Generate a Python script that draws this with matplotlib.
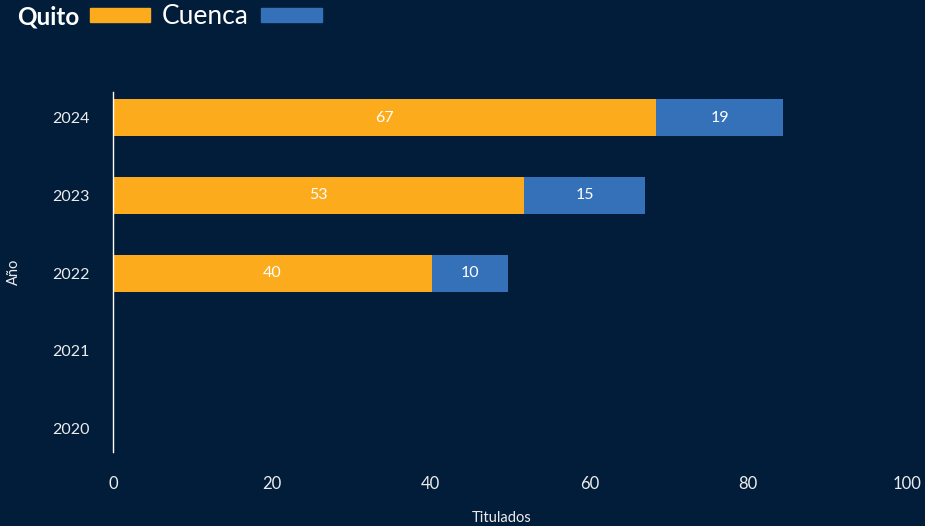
import matplotlib
matplotlib.use("Agg")
import matplotlib.pyplot as plt
from matplotlib.patches import Rectangle
import numpy as np

years = ["2020", "2021", "2022", "2023", "2024"]
quito = [0, 0, 40.2, 51.8, 68.4]
cuenca = [0, 0, 9.5, 15.2, 16.0]
quito_labels = ["", "", "40", "53", "67"]
cuenca_labels = ["", "", "10", "15", "19"]
x_ticks = [0, 20, 40, 60, 80, 100]

bg = "#021d39"
orange = "#fcab1d"
blue = "#3571b8"
txt = "#ececec"

plt.rcParams["font.family"] = ["Lato", "DejaVu Sans"]

fig = plt.figure(figsize=(9.25, 5.26), dpi=100, facecolor=bg)
ax = fig.add_axes([0.1222, 0.1407, 0.8583, 0.6844], facecolor=bg)

ypos = np.arange(len(years))
b1 = ax.barh(ypos, quito, height=0.48, color=orange)
b2 = ax.barh(ypos, cuenca, left=quito, height=0.48, color=blue)
ax.bar_label(b1, labels=quito_labels, label_type="center", color="white",
             fontsize=11.5)
ax.bar_label(b2, labels=cuenca_labels, label_type="center", color="white",
             fontsize=11.5)

ax.set_xlim(0, 100)
ax.set_ylim(-0.3, 4.33)
ax.set_yticks(ypos)
ax.set_yticklabels(years)
ax.set_xticks(x_ticks)
ax.tick_params(axis="both", length=0, colors=txt, labelsize=11.5, pad=17)
ax.tick_params(axis="x", labelsize=12)

for s in ["top", "right", "bottom"]:
    ax.spines[s].set_visible(False)
ax.spines["left"].set_color("white")
ax.spines["left"].set_linewidth(1)

ax.set_xlabel("Titulados", color=txt, fontsize=10.5)
ax.set_ylabel("Año", color=txt, fontsize=10.5, labelpad=22)
ax.xaxis.set_label_coords(0.49, -0.164)

# legend drawn by hand: label then swatch
fig.text(17 / 925, 1 - 17 / 526, "Quito", color="white", fontsize=17.5,
         fontweight="bold", va="center", ha="left")
fig.patches.append(Rectangle((90 / 925, 1 - 22 / 526), 60 / 925, 14 / 526,
                             transform=fig.transFigure, color=orange))
fig.text(162 / 925, 1 - 17 / 526, "Cuenca", color="white", fontsize=19,
         va="center", ha="left")
fig.patches.append(Rectangle((261 / 925, 1 - 22 / 526), 61 / 925, 14 / 526,
                             transform=fig.transFigure, color=blue))

fig.savefig("out.png", dpi=100, facecolor=bg)
